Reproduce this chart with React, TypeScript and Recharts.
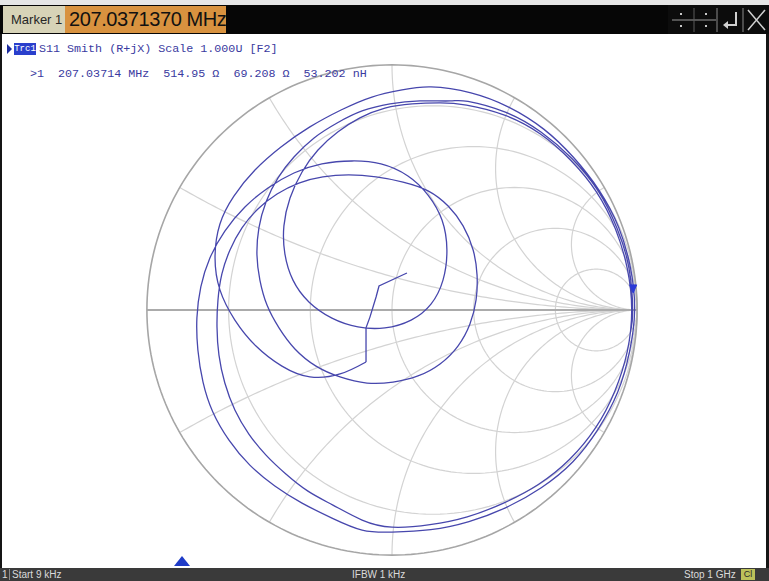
import React from "react";
import { LineChart, Line, XAxis, YAxis, ReferenceDot } from "recharts";

type Pt = [number, number];

// S11 reflection coefficient (Re, Im) along the sweep, 9 kHz -> 1 GHz
const sweepLead: Pt[] = [
  [0.061, 0.151], [-0.053, 0.098], [-0.065, 0.053], [-0.09, -0.029],
  [-0.106, -0.073], [-0.106, -0.143], [-0.106, -0.212],
];

const sweepTurn1: Pt[] = [
  [-0.106, -0.212], [-0.212, -0.261], [-0.335, -0.273], [-0.449, -0.229],
  [-0.555, -0.147], [-0.641, -0.041], [-0.702, 0.082], [-0.722, 0.216],
  [-0.702, 0.351], [-0.645, 0.465], [-0.559, 0.571], [-0.453, 0.665],
  [-0.335, 0.747], [-0.208, 0.816], [-0.082, 0.869], [0.041, 0.898],
  [0.159, 0.91], [0.322, 0.886], [0.478, 0.827], [0.619, 0.738],
  [0.741, 0.622], [0.845, 0.488], [0.925, 0.337], [0.973, 0.172],
  [0.99, 0.0], [0.969, -0.171], [0.921, -0.335], [0.841, -0.486],
  [0.738, -0.619], [0.609, -0.725], [0.465, -0.806], [0.314, -0.863],
  [0.158, -0.896], [0.0, -0.906],
];

const sweepTurn2: Pt[] = [
  [-0.122, -0.898], [-0.245, -0.849], [-0.367, -0.788], [-0.478, -0.718],
  [-0.58, -0.633], [-0.665, -0.531], [-0.731, -0.416], [-0.771, -0.294],
  [-0.792, -0.163], [-0.796, -0.033], [-0.78, 0.094], [-0.743, 0.212],
  [-0.682, 0.322], [-0.6, 0.42], [-0.506, 0.498], [-0.4, 0.559],
  [-0.286, 0.596], [-0.163, 0.608], [-0.045, 0.596], [0.065, 0.547],
  [0.147, 0.469], [0.204, 0.367], [0.224, 0.245], [0.208, 0.122],
  [0.159, 0.024], [0.078, -0.041], [-0.029, -0.073], [-0.139, -0.069],
  [-0.245, -0.033], [-0.339, 0.033], [-0.404, 0.122], [-0.437, 0.229],
  [-0.441, 0.343], [-0.416, 0.457], [-0.367, 0.563], [-0.302, 0.653],
  [-0.22, 0.727], [-0.131, 0.784], [-0.029, 0.824], [0.082, 0.841],
  [0.196, 0.845], [0.304, 0.836], [0.459, 0.795], [0.604, 0.719],
  [0.729, 0.611], [0.834, 0.482], [0.911, 0.332], [0.96, 0.169],
  [0.978, 0.0], [0.96, -0.169], [0.909, -0.331], [0.831, -0.48],
  [0.725, -0.609], [0.597, -0.712], [0.455, -0.788], [0.307, -0.844],
  [0.155, -0.876], [0.0, -0.886],
];

const sweepTurn3: Pt[] = [
  [-0.122, -0.857], [-0.241, -0.796], [-0.343, -0.739], [-0.433, -0.669],
  [-0.514, -0.592], [-0.584, -0.506], [-0.641, -0.408], [-0.682, -0.298],
  [-0.706, -0.184], [-0.714, -0.069], [-0.71, 0.041], [-0.694, 0.147],
  [-0.661, 0.245], [-0.612, 0.335], [-0.547, 0.412], [-0.469, 0.473],
  [-0.38, 0.518], [-0.282, 0.543], [-0.176, 0.551], [-0.065, 0.543],
  [0.045, 0.522], [0.147, 0.486], [0.229, 0.424], [0.29, 0.343],
  [0.331, 0.245], [0.347, 0.143], [0.343, 0.041], [0.318, -0.057],
  [0.269, -0.147], [0.196, -0.22], [0.106, -0.269], [0.004, -0.294],
  [-0.102, -0.298], [-0.212, -0.273], [-0.31, -0.229], [-0.396, -0.159],
  [-0.461, -0.073], [-0.51, 0.02], [-0.539, 0.122], [-0.551, 0.224],
  [-0.543, 0.335], [-0.514, 0.441], [-0.465, 0.539], [-0.4, 0.624],
  [-0.318, 0.702], [-0.224, 0.763], [-0.122, 0.812], [-0.008, 0.841],
  [0.114, 0.853], [0.237, 0.853], [0.31, 0.851], [0.465, 0.806],
  [0.609, 0.725], [0.735, 0.617], [0.841, 0.486], [0.918, 0.334],
  [0.967, 0.17], [0.982, 0.0], [0.975, -0.08],
];

// Smith grid: normalised resistance circles and reactance arcs
const resistanceGrid = [0.2, 0.5, 1, 2, 5];
const reactanceGrid = [0.268, 0.577, 1, 1.732, 3.732];

// Marker 1 glyph on the trace (Re, Im)
const marker1: Pt = [0.984, 0.082];

const toRows = (pts: Pt[]) => pts.map(([x, y]) => ({ x, y }));

function circleRows(cx: number, cy: number, rad: number, a0: number, a1: number, n: number) {
  const rows: { x: number; y: number }[] = [];
  for (let i = 0; i <= n; i++) {
    const a = a0 + ((a1 - a0) * i) / n;
    rows.push({ x: cx + rad * Math.cos(a), y: cy + rad * Math.sin(a) });
  }
  return rows;
}

function resistanceCircle(r: number) {
  return circleRows(r / (1 + r), 0, 1 / (1 + r), 0, 2 * Math.PI, 180);
}

function reactanceArc(xv: number, sign: number) {
  const k = 1 / xv;
  const px = (xv * xv - 1) / (xv * xv + 1);
  const py = (2 * xv) / (xv * xv + 1);
  let end = Math.atan2(py - k, px - 1);
  if (end > -Math.PI / 2) end -= 2 * Math.PI;
  return circleRows(1, k, k, -Math.PI / 2, end, 120).map((p) => ({ x: p.x, y: sign * p.y }));
}

const spiral = toRows([...sweepTurn1, ...sweepTurn2, ...sweepTurn3]);
const lead = toRows(sweepLead);
const outerRim = circleRows(0, 0, 1, 0, 2 * Math.PI, 240);
const realAxis = [{ x: -1, y: 0 }, { x: 1, y: 0 }];

const GRID = "#d3d3d3";
const TRACE = "#4747ad";
const MONO = '"Liberation Mono", "DejaVu Sans Mono", monospace';
const SANS = '"Liberation Sans", Arial, sans-serif';

const abs = (s: React.CSSProperties): React.CSSProperties => ({ position: "absolute", ...s });

function MarkerGlyph(p: any) {
  const { cx, cy } = p;
  return (
    <path
      d={`M${cx - 3.5},${cy - 5} L${cx + 3.5},${cy - 5} L${cx},${cy + 3} Z`}
      fill="#2b3ad6"
      stroke="#2b3ad6"
      strokeWidth={1}
    />
  );
}

export default function App() {
  return (
    <div style={abs({ left: 0, top: 0, width: 769, height: 581, background: "#fff", overflow: "hidden", fontFamily: SANS })}>
      {/* title bar */}
      <div style={abs({ left: 0, top: 0, width: 769, height: 5, background: "#e6e6e6" })} />
      <div style={abs({ left: 0, top: 5, width: 769, height: 29, background: "#060606" })} />
      <div
        style={abs({
          left: 3, top: 6, width: 62, height: 27, background: "#d7d3b7", color: "#262626",
          fontSize: 13, lineHeight: "27px", paddingLeft: 8, boxSizing: "border-box", whiteSpace: "pre",
        })}
      >
        Marker 1
      </div>
      <div
        style={abs({
          left: 65, top: 6, width: 161, height: 27, background: "#d8923f", color: "#111",
          fontSize: 20, lineHeight: "27px", paddingLeft: 4, boxSizing: "border-box", letterSpacing: -0.4, whiteSpace: "pre",
        })}
      >
        207.0371370 MHz
      </div>
      <svg style={abs({ left: 668, top: 5, width: 101, height: 29 })} width={101} height={29}>
        <rect x={0} y={0} width={101} height={29} fill="#0c0c0c" />
        <line x1={4} y1={15} x2={48} y2={15} stroke="#9a9a9a" strokeWidth={1} />
        <line x1={26} y1={3} x2={26} y2={27} stroke="#5a5a5a" strokeWidth={1} />
        <line x1={49} y1={3} x2={49} y2={27} stroke="#8a8a8a" strokeWidth={1} />
        <line x1={75} y1={3} x2={75} y2={27} stroke="#8a8a8a" strokeWidth={1} />
        {[13, 38].map((x) => (
          <g key={x} fill="#c8c8c8">
            <rect x={x - 1} y={8} width={2} height={2} />
            <rect x={x - 1} y={20} width={2} height={2} />
          </g>
        ))}
        <path d="M68,7 L68,20 L57,20" stroke="#d0d0d0" strokeWidth={2} fill="none" />
        <path d="M60,16 L55,20 L60,24 Z" fill="#d0d0d0" />
        <path d="M80,5 L97,25 M97,5 L80,25" stroke="#d0d0d0" strokeWidth={1.5} />
      </svg>

      {/* side frame */}
      <div style={abs({ left: 0, top: 34, width: 2, height: 535, background: "#151515" })} />
      <div style={abs({ left: 766, top: 34, width: 3, height: 535, background: "#151515" })} />

      {/* Smith chart */}
      <div style={abs({ left: 0, top: 0 })}>
        <LineChart width={769} height={581} margin={{ top: 60, right: 127, bottom: 21, left: 142 }}>
          <XAxis type="number" dataKey="x" domain={[-1.02, 1.02]} hide allowDataOverflow />
          <YAxis type="number" dataKey="y" domain={[-1.02, 1.02]} hide allowDataOverflow />
          {resistanceGrid.map((r) => (
            <Line key={`r${r}`} data={resistanceCircle(r)} dataKey="y" type="linear" stroke={GRID}
              strokeWidth={1.2} dot={false} activeDot={false} isAnimationActive={false} />
          ))}
          {reactanceGrid.flatMap((xv) =>
            [1, -1].map((s) => (
              <Line key={`x${xv}${s}`} data={reactanceArc(xv, s)} dataKey="y" type="linear" stroke={GRID}
                strokeWidth={1.2} dot={false} activeDot={false} isAnimationActive={false} />
            ))
          )}
          <Line data={realAxis} dataKey="y" type="linear" stroke="#ababab" strokeWidth={2}
            dot={false} activeDot={false} isAnimationActive={false} />
          <Line data={outerRim} dataKey="y" type="linear" stroke="#a6a6a6" strokeWidth={1.6}
            dot={false} activeDot={false} isAnimationActive={false} />
          <Line data={lead} dataKey="y" type="linear" stroke={TRACE} strokeWidth={1.3}
            dot={false} activeDot={false} isAnimationActive={false} />
          <Line data={spiral} dataKey="y" type="natural" stroke={TRACE} strokeWidth={1.3}
            dot={false} activeDot={false} isAnimationActive={false} />
          <ReferenceDot x={marker1[0]} y={marker1[1]} r={4} ifOverflow="visible" shape={MarkerGlyph} />
        </LineChart>
      </div>

      {/* trace header */}
      <svg style={abs({ left: 6, top: 43, width: 8, height: 12 })} width={8} height={12}>
        <path d="M1,1 L6,6 L1,11 Z" fill="#1b2a9e" />
      </svg>
      <div
        style={abs({
          left: 14, top: 43, width: 22, height: 12, background: "#2a3fcc", color: "#fff",
          fontFamily: MONO, fontSize: 9, lineHeight: "12px", textAlign: "center",
        })}
      >
        Trc1
      </div>
      <div style={abs({ left: 39, top: 42, fontFamily: MONO, fontSize: 11.7, lineHeight: "14px", color: "#3a3aa0", whiteSpace: "pre" })}>
        S11 Smith (R+jX) Scale 1.000U [F2]
      </div>
      <div style={abs({ left: 30, top: 67, fontFamily: MONO, fontSize: 11.7, lineHeight: "14px", color: "#3a3aa0", whiteSpace: "pre" })}>
        {">1  207.03714 MHz  514.95 \u03a9  69.208 \u03a9  53.202 nH"}
      </div>

      {/* stimulus marker on the sweep axis */}
      <svg style={abs({ left: 174, top: 556, width: 16, height: 11 })} width={16} height={11}>
        <path d="M8,0 L16,10 L0,10 Z" fill="#1f3cc8" />
      </svg>

      {/* status bar */}
      <div style={abs({ left: 0, top: 568, width: 769, height: 13, background: "#3a3a3a" })} />
      <div style={abs({ left: 2, top: 568, fontSize: 10, lineHeight: "13px", color: "#dadada" })}>1</div>
      <div style={abs({ left: 9, top: 569, width: 1, height: 11, background: "#8a8a8a" })} />
      <div style={abs({ left: 12, top: 568, fontSize: 10, lineHeight: "13px", color: "#dadada", whiteSpace: "pre" })}>Start 9 kHz</div>
      <div style={abs({ left: 352, top: 568, fontSize: 10, lineHeight: "13px", color: "#dadada", whiteSpace: "pre" })}>IFBW 1 kHz</div>
      <div style={abs({ left: 684, top: 568, fontSize: 10, lineHeight: "13px", color: "#dadada", whiteSpace: "pre" })}>Stop 1 GHz</div>
      <div
        style={abs({
          left: 741, top: 569, width: 14, height: 11, background: "#bcc15a", color: "#2a2a2a",
          fontSize: 9, lineHeight: "11px", textAlign: "center",
        })}
      >
        Cl
      </div>
    </div>
  );
}
